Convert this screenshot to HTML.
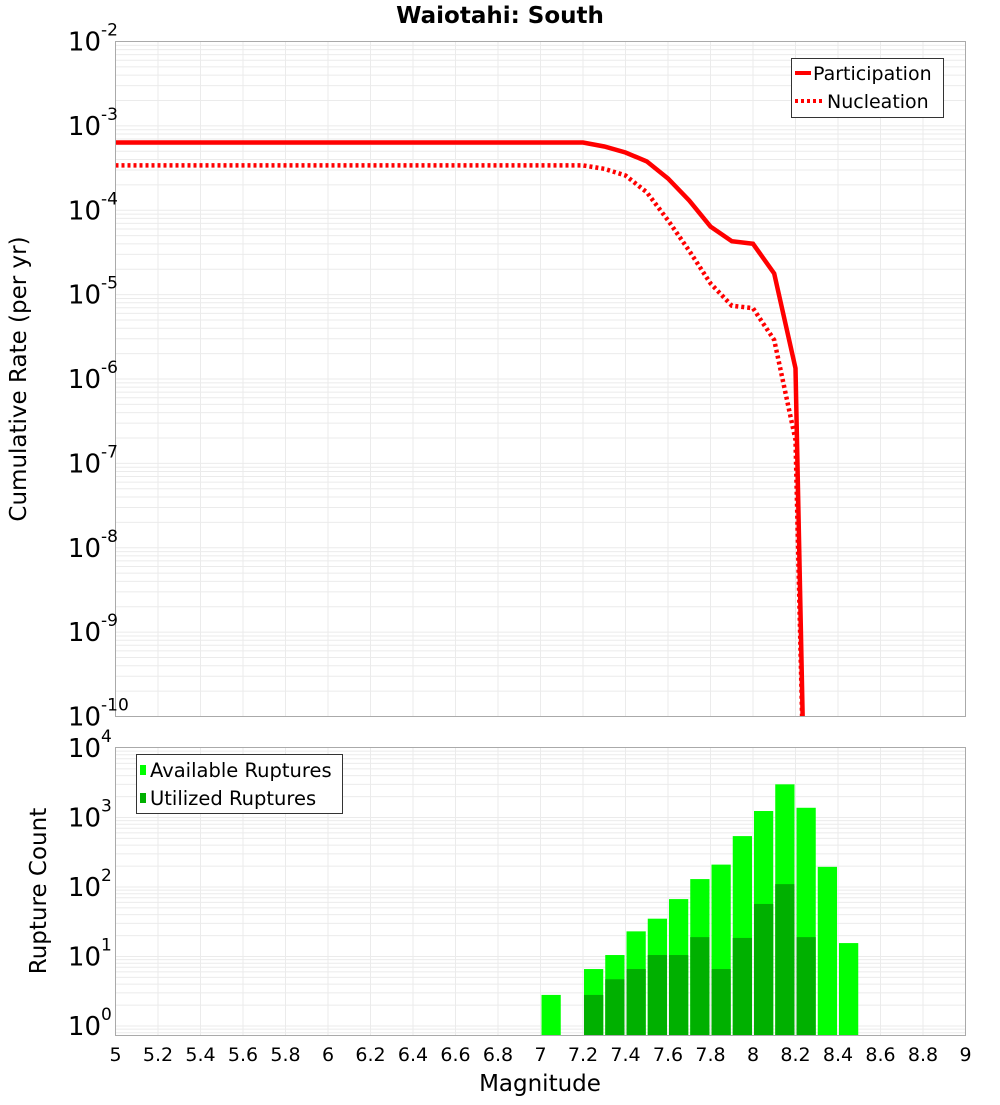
<!DOCTYPE html>
<html><head><meta charset="utf-8"><style>
body{margin:0;background:#fff;font-family:"Liberation Sans","DejaVu Sans",sans-serif}
</style></head><body>
<svg id="c" width="1000" height="1100" xmlns="http://www.w3.org/2000/svg" font-family="DejaVu Sans, Liberation Sans, sans-serif"></svg>
<script>
const mags=[5,7.2,7.3,7.4,7.5,7.6,7.7,7.8,7.9,8.0,8.1,8.2,8.25];
const participation=[6.35e-4,6.35e-4,5.7e-4,4.84e-4,3.79e-4,2.38e-4,1.3e-4,6.4e-5,4.3e-5,4.0e-5,1.78e-5,1.34e-6,1e-12];
const nucleation=[3.4e-4,3.4e-4,3.1e-4,2.58e-4,1.63e-4,7.6e-5,3.3e-5,1.36e-5,7.4e-6,6.9e-6,2.9e-6,1.9e-7,1e-12];
const binMags=[7.0,7.1,7.2,7.3,7.4,7.5,7.6,7.7,7.8,7.9,8.0,8.1,8.2,8.3,8.4];
const available=[2.8,0,6.6,10.5,23,35,67,130,210,540,1240,3000,1380,195,15.6];
const utilized=[0,0,2.8,4.7,6.6,10.5,10.5,19,6.6,18.5,57,110,19,0,0];
const xTicks=[5,5.2,5.4,5.6,5.8,6,6.2,6.4,6.6,6.8,7,7.2,7.4,7.6,7.8,8,8.2,8.4,8.6,8.8,9];
const topExps=[-2,-3,-4,-5,-6,-7,-8,-9,-10];
const botExps=[4,3,2,1,0];

const NS="http://www.w3.org/2000/svg",svg=document.getElementById('c');
function el(t,a,p){const e=document.createElementNS(NS,t);for(const k in a)e.setAttribute(k,a[k]);(p||svg).appendChild(e);return e;}
const L=115.5,R=965.5,T1=41.5,B1=716.5,T2=747.5,B2=1035.5;
const X=m=>L+(m-5)/4*(R-L);
const Y1=v=>T1+(-2-Math.log10(v))*((B1-T1)/8);
const dec2=69.5,Y0=1026;
const Y2=v=>Y0-Math.log10(v)*dec2;

const defs=el('defs',{});
const cp=el('clipPath',{id:'cp1'},defs);el('rect',{x:L,y:T1,width:R-L,height:B1-T1},cp);

function grid(T,B,yf,lo,hi,g){
  for(let d=lo;d<hi;d++)for(let k=1;k<10;k++){const y=yf(k*Math.pow(10,d));if(y<T-0.1||y>B+0.1)continue;
    el('line',{x1:L,x2:R,y1:y,y2:y,stroke:'#ebebeb','stroke-width':1},g);}
  xTicks.forEach(m=>{el('line',{x1:X(m),x2:X(m),y1:T,y2:B,stroke:'#ebebeb','stroke-width':1},g);});
}
const g1=el('g',{});
grid(T1,B1,Y1,-10,-2,g1);
const g2=el('g',{});
grid(T2,B2,Y2,-1,4,g2);

const t=el('text',{x:500,y:23,'text-anchor':'middle','font-size':23,'font-weight':'bold'});t.textContent='Waiotahi: South';


function path(arr){return arr.map((v,i)=>(i?'L':'M')+X(mags[i]).toFixed(1)+','+Y1(v).toFixed(1)).join('');}
const lp=el('path',{d:path(participation),fill:'none',stroke:'#ff0000','stroke-width':4.5,'clip-path':'url(#cp1)'});

const ln=el('path',{d:path(nucleation),fill:'none',stroke:'#ff0000','stroke-width':4.5,'stroke-dasharray':'3 3','clip-path':'url(#cp1)'});


binMags.forEach((m,i)=>{
  const x0=X(m)+1,w=X(m+0.1)-X(m)-2;
  if(available[i]>0){const y=Y2(available[i]);const r=el('rect',{x:x0,y:y,width:w,height:B2-y,fill:'#00ff00'});
    }
  if(utilized[i]>0){const y=Y2(utilized[i]);const r=el('rect',{x:x0,y:y,width:w,height:B2-y,fill:'#00b000'});
    }
});

const f1=el('rect',{x:L,y:T1,width:R-L,height:B1-T1,fill:'none',stroke:'#aaa','stroke-width':1});

const f2=el('rect',{x:L,y:T2,width:R-L,height:B2-T2,fill:'none',stroke:'#aaa','stroke-width':1});


function ylab(y,e,nm){const g=el('g',{});
  const tx=el('text',{x:101,y:y+9,'text-anchor':'end','font-size':26},g);tx.textContent='10';
  const s=el('text',{x:101,y:y-6,'text-anchor':'start','font-size':17},g);s.textContent=String(e);}
topExps.forEach(e=>ylab(Y1(Math.pow(10,e)),e,'top-y-tick-label'));
botExps.forEach(e=>ylab(Y2(Math.pow(10,e)),e,'bottom-y-tick-label'));

xTicks.forEach(m=>{const tx=el('text',{x:X(m),y:1061,'text-anchor':'middle','font-size':19});
  tx.textContent=String(Math.round(m*10)/10);});

let a=el('text',{x:540,y:1091,'text-anchor':'middle','font-size':23});a.textContent='Magnitude';

a=el('text',{x:0,y:0,'text-anchor':'middle','font-size':23,transform:'translate(26,379) rotate(-90)'});a.textContent='Cumulative Rate (per yr)';

a=el('text',{x:0,y:0,'text-anchor':'middle','font-size':23,transform:'translate(46,891) rotate(-90)'});a.textContent='Rupture Count';


const lg1=el('g',{});
el('rect',{x:791.5,y:58.5,width:152,height:59,fill:'#fff',stroke:'#333','stroke-width':1},lg1);
el('line',{x1:795,x2:811,y1:73,y2:73,stroke:'#f00','stroke-width':4},lg1);
el('line',{x1:795,x2:822,y1:101,y2:101,stroke:'#f00','stroke-width':4,'stroke-dasharray':'3 3'},lg1);
a=el('text',{x:813,y:80,'font-size':19},lg1);a.textContent='Participation';
a=el('text',{x:827,y:108,'font-size':19},lg1);a.textContent='Nucleation';
const lg2=el('g',{});
el('rect',{x:136.5,y:754.5,width:206,height:59,fill:'#fff',stroke:'#333','stroke-width':1},lg2);
el('rect',{x:140,y:765,width:6,height:10,fill:'#00ff00'},lg2);
el('rect',{x:140,y:793,width:6,height:10,fill:'#00b000'},lg2);
a=el('text',{x:150,y:777,'font-size':19.5},lg2);a.textContent='Available Ruptures';
a=el('text',{x:150,y:805,'font-size':19.5},lg2);a.textContent='Utilized Ruptures';
</script>
</body></html>
